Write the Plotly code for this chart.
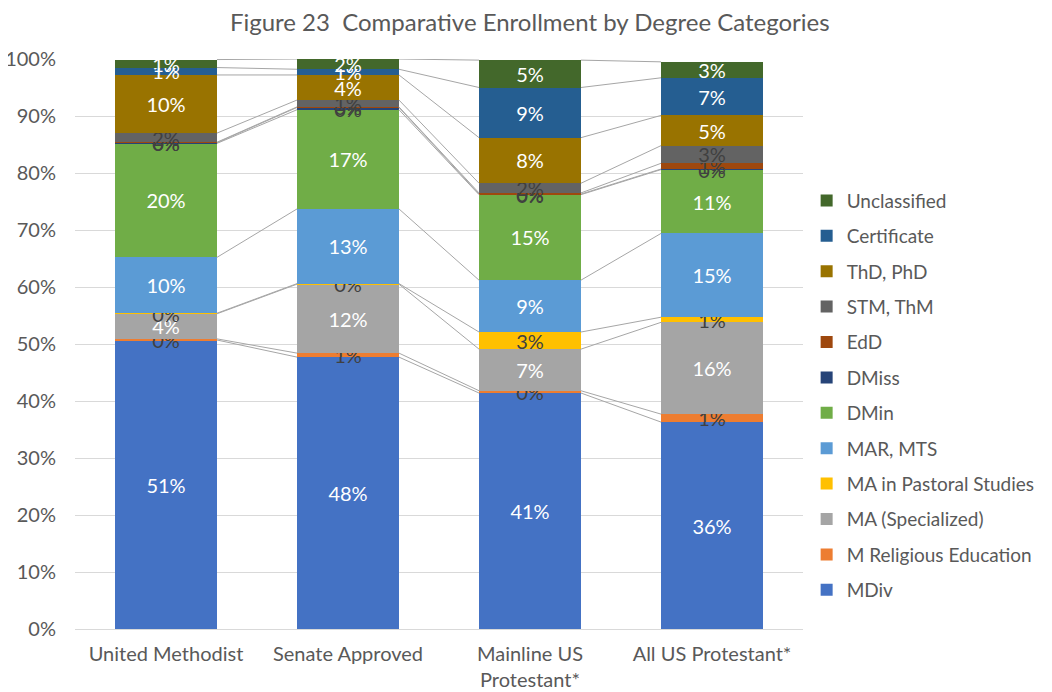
import plotly.graph_objects as go

categories = ["United Methodist", "Senate Approved", "Mainline US<br>Protestant*", "All US Protestant*"]
series_names = ["MDiv", "M Religious Education", "MA (Specialized)", "MA in Pastoral Studies",
                "MAR, MTS", "DMin", "DMiss", "EdD", "STM, ThM", "ThD, PhD", "Certificate", "Unclassified"]

mdiv = [50.7, 47.7, 41.4, 36.3]
m_rel_ed = [0.2, 0.7, 0.4, 1.4]
ma_spec = [4.4, 12.1, 7.3, 16.1]
ma_past = [0.1, 0.1, 3.0, 0.9]
mar_mts = [9.8, 13.1, 9.1, 14.7]
dmin = [20.0, 17.4, 15.0, 11.2]
dmiss = [0.1, 0.4, 0.1, 0.1]
edd = [0.1, 0.1, 0.2, 1.0]
stm = [1.6, 1.2, 1.7, 3.1]
thd = [10.2, 4.4, 8.0, 5.3]
certificate = [1.3, 1.0, 8.8, 6.6]
unclassified = [1.4, 1.8, 4.8, 2.8]

series_values = [mdiv, m_rel_ed, ma_spec, ma_past, mar_mts, dmin, dmiss, edd, stm, thd, certificate, unclassified]
colors = ["#4472C4", "#ED7D31", "#A5A5A5", "#FFC000", "#5B9BD5", "#70AD47",
          "#264478", "#9E480E", "#636363", "#997300", "#255E91", "#43682B"]
label_colors = ["white", "#404040", "white", "#404040", "white", "white",
                "#404040", "#404040", "#404040", "white", "white", "white"]

xpos = list(range(len(categories)))
bar_w = 0.56
font = "Lato, Calibri, Carlito, sans-serif"

fig = go.Figure()

# series lines
lx, ly = [], []
cum = [0.0] * len(categories)
for vals in series_values:
    cum = [c + v for c, v in zip(cum, vals)]
    for i in range(len(categories) - 1):
        lx += [xpos[i] + bar_w / 2, xpos[i + 1] - bar_w / 2, None]
        ly += [cum[i], cum[i + 1], None]
fig.add_trace(go.Scatter(x=lx, y=ly, mode="lines", line=dict(color="#A6A6A6", width=1),
                         showlegend=False, hoverinfo="skip"))

n = len(series_names)
for k, (name, vals, col, lc) in enumerate(zip(series_names, series_values, colors, label_colors)):
    fig.add_trace(go.Bar(
        x=xpos, y=vals, name=name, width=bar_w,
        marker=dict(color=col, line=dict(width=0)),
        text=[f"{v:.0f}%" for v in vals],
        textposition="inside", insidetextanchor="middle", textangle=0,
        insidetextfont=dict(color=lc, size=20, family=font),
        legendgroup=name, legendrank=n - k,
    ))

fig.update_layout(
    barmode="stack",
    width=1052, height=692,
    margin=dict(l=67, r=257, t=51, b=71, autoexpand=False),
    paper_bgcolor="white", plot_bgcolor="white",
    font=dict(family=font, color="#595959", size=20),
    title=dict(text="Figure 23  Comparative Enrollment by Degree Categories",
               x=0.496, xref="container", xanchor="center", y=0.979, yref="container", yanchor="middle",
               font=dict(size=24, color="#595959", family=font)),
    uniformtext=dict(minsize=20, mode="show"),
    legend=dict(x=1.005, xanchor="left", y=0.785, yanchor="top",
                traceorder="grouped", tracegroupgap=7.7,
                font=dict(size=19, color="#595959", family=font)),
    showlegend=True,
)
fig.update_xaxes(range=[-0.5, 3.5], tickvals=xpos, ticktext=categories, showgrid=False,
                 showline=True, linecolor="#D9D9D9", ticks="", tickfont=dict(size=20),
                 ticklabelstandoff=7, automargin=False)
fig.update_yaxes(range=[0, 100], dtick=10, ticksuffix="%", showgrid=True, gridcolor="#D9D9D9",
                 zeroline=False, ticks="", tickfont=dict(size=20), ticklabelstandoff=18,
                 automargin=False)

fig.write_html("out.html")
